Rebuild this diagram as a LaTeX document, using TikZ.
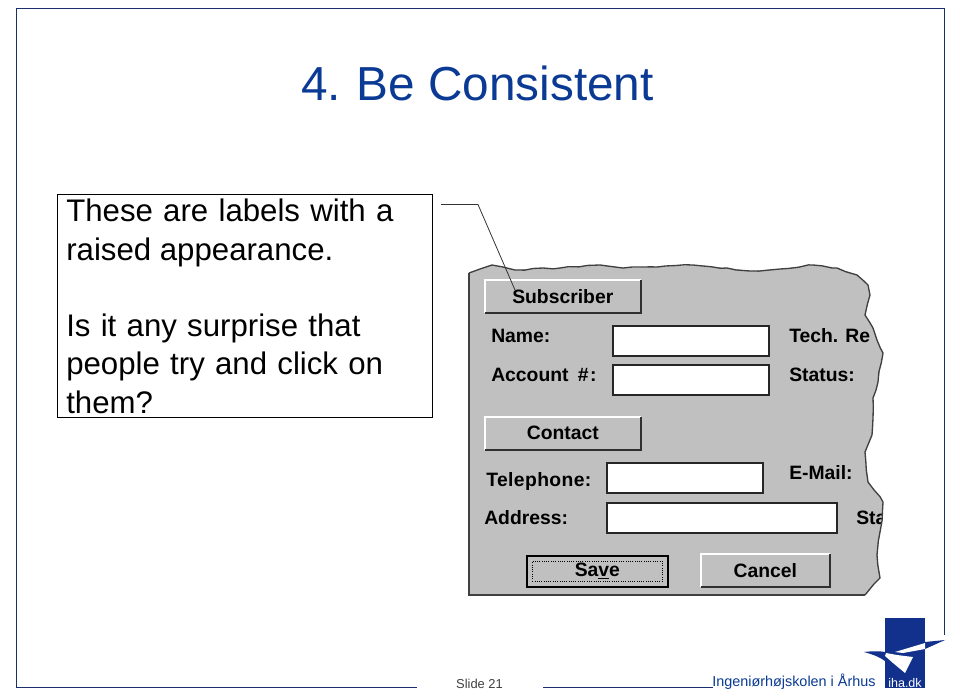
\documentclass[tikz,border=0pt]{standalone}
\usepackage{fontspec}
\setmainfont{Liberation Sans}
\definecolor{slideblue}{HTML}{0A3A94}
\definecolor{framenavy}{HTML}{1B2F6E}
\definecolor{logoblue}{HTML}{12318C}
\definecolor{panelgray}{HTML}{C0C0C0}
\definecolor{shadegray}{HTML}{303030}
\usetikzlibrary{positioning, decorations.pathmorphing}
\tikzset{
    frameline/.style={framenavy, line width=0.8pt},
    uilabel/.style={inner sep=0pt, anchor=base west, font=\fontsize{14.5}{16}\selectfont\bfseries, text=black},
    uibutton/.style={inner sep=0pt, anchor=north west, fill=panelgray},
    uifield/.style={inner sep=0pt, anchor=north west, fill=white, draw=black!85, line width=1.3pt},
    uitext/.style={font=\fontsize{14.5}{16}\selectfont\bfseries, text=black, inner sep=0pt},
    tornedge/.style={black!75, line width=1pt, decorate, decoration={random steps, segment length=7pt, amplitude=0.7pt}}
}
% raised button: #1 name, #2 x, #3 y, #4 width, #5 height, #6 text
\newcommand{\raisedbutton}[6]{
    \node[uibutton, minimum width=#4*0.75pt, minimum height=#5*0.75pt] (#1) at (#2,#3) {};
    \draw[white, line width=1.5pt] (#1.south west) -- (#1.north west) -- (#1.north east);
    \draw[shadegray, line width=1.5pt] (#1.south west) -- (#1.south east) -- (#1.north east);
    \node[uitext] at (#1.center) {#6};
}
\begin{document}
\begin{tikzpicture}[x=0.75pt, y=-0.75pt]
    \useasboundingbox (0,0) rectangle (960,696);
    \fill[white] (0,0) rectangle (960,696);

    % Slide frame
    \coordinate (frameA) at (417,687.5);
    \coordinate (frameB) at (16.5,687.5);
    \coordinate (frameC) at (16.5,8.5);
    \coordinate (frameD) at (944.5,8.5);
    \coordinate (frameE) at (944.5,635);
    \coordinate (frameF) at (543,687.5);
    \coordinate (frameG) at (713,687.5);
    \draw[frameline] (frameA) -- (frameB) -- (frameC) -- (frameD) -- (frameE);
    \draw[frameline] (frameF) -- (frameG);

    % Title and text
    \node[text=slideblue, font=\fontsize{35.8}{40}\selectfont] (title) at (477.5,83) {4.\kern-1.5pt{} Be Consistent};
    \node[draw=black, line width=0.7pt, anchor=north west, inner sep=0pt, minimum width=375*0.75pt, minimum height=223*0.75pt] (notebox) at (57,194) {};
    \node[anchor=north west, inner sep=0pt, align=left, font=\fontsize{23.4}{28.7}\selectfont] (notetext) at (66,199) {\spaceskip=7.7pt These are labels with a\\raised appearance.\\[0pt]\strut\\[0pt]\spaceskip=7.7pt Is it any surprise that\\\spaceskip=7.7pt people try and click on\\them?};

    % Screenshot panel
    \def\panelrough{(469,273) -- (480,269) -- (492,265) -- (503,267) -- (515,270) -- (543,268) -- (560,268) -- (600,265) -- (623,268) -- (657,267) -- (693,265) -- (727,268) -- (750,271) -- (780,269) -- (813,265) -- (837,268) -- (857,275) -- (868,285) -- (870,295) -- (865,315) -- (873,328) -- (877,340) -- (883,353) -- (878,382) -- (873,398) -- (873,418) -- (872,435) -- (865,452) -- (868,482) -- (883,502) -- (880,532) -- (877,555) -- (880,578) -- (865,595)}
    \fill[panelgray] \panelrough -- (469,595) -- cycle;

    \raisedbutton{subscriber}{485}{280}{155}{32}{Subscriber}
    \raisedbutton{contact}{485}{417}{155}{32}{Contact}
    \raisedbutton{cancel}{701}{554}{128}{32}{Cancel}
    \node[uibutton, draw=black, line width=2pt, minimum width=141*0.75pt, minimum height=31*0.75pt] (save) at (525.5,554.5) {};
    \node[draw=black, densely dotted, line width=0.7pt, inner sep=0pt, minimum width=130*0.75pt, minimum height=20*0.75pt] (savefocus) at (save.center) {};
    \node[uitext] (savetext) at (save.center) {Sa\underline{v}e};

    \node[uifield, minimum width=156*0.75pt, minimum height=30*0.75pt] (name) at (612,325) {};
    \node[uifield, minimum width=156*0.75pt, minimum height=30*0.75pt] (account) at (612,364) {};
    \node[uifield, minimum width=156*0.75pt, minimum height=30*0.75pt] (telephone) at (606,462) {};
    \node[uifield, minimum width=230*0.75pt, minimum height=30*0.75pt] (address) at (606,502) {};

    \node[uilabel] at (491,342) {Name:};
    \node[uilabel] at (491,381) {Account\hspace{3pt} \#\hspace{1pt}:};
    \node[uilabel] at (486,486) {\addfontfeature{LetterSpace=2}Telephone:};
    \node[uilabel] at (484,524) {Address:};
    \begin{scope}
        \clip \panelrough -- (469,595) -- cycle;
        \node[uilabel] at (789,342) {Tech. Re};
        \node[uilabel] at (789,381) {Status:};
        \node[uilabel] at (789,479) {E-Mail:};
        \node[uilabel] at (856,524) {Sta};
    \end{scope}
    \draw[tornedge] \panelrough;
    \draw[black!75, line width=1.2pt] (469,273) -- (469,595) -- (865,595);

    % Callout
    \coordinate (calloutstart) at (441,204.5);
    \coordinate (calloutbend) at (478,204.5);
    \coordinate (callouttip) at (515,290);
    \draw[black!80, line width=0.6pt] (calloutstart) -- (calloutbend) -- (callouttip);

    % Footer
    \node[font=\fontsize{9.7}{11}\selectfont, text=black!75] (slidenum) at (479.5,684) {Slide 21};
    \node[font=\fontsize{10.8}{12}\selectfont, text=slideblue, anchor=west, inner sep=0pt] (school) at (712,682) {Ingeniørhøjskolen i Århus};

    % Logo
    \fill[logoblue] (885,618) rectangle (925,688);
    \fill[logoblue] (864,652) .. controls (872,651) and (880,651) .. (885,652) -- (885,661) .. controls (878,656) and (871,654) .. cycle;
    \fill[logoblue] (925,642) -- (945,640) -- (925,649) -- cycle;
    \fill[white] (886,653) -- (897,655) -- (913,657) -- (905,673) -- (893,663) -- (885,656) -- cycle;
    \fill[white] (895,652) -- (925,643) -- (925,649) -- (903,653) -- cycle;
    \node[font=\fontsize{9.4}{12}\selectfont, text=white, inner sep=0pt] (logotext) at (905,683) {iha.dk};
\end{tikzpicture}
\end{document}
